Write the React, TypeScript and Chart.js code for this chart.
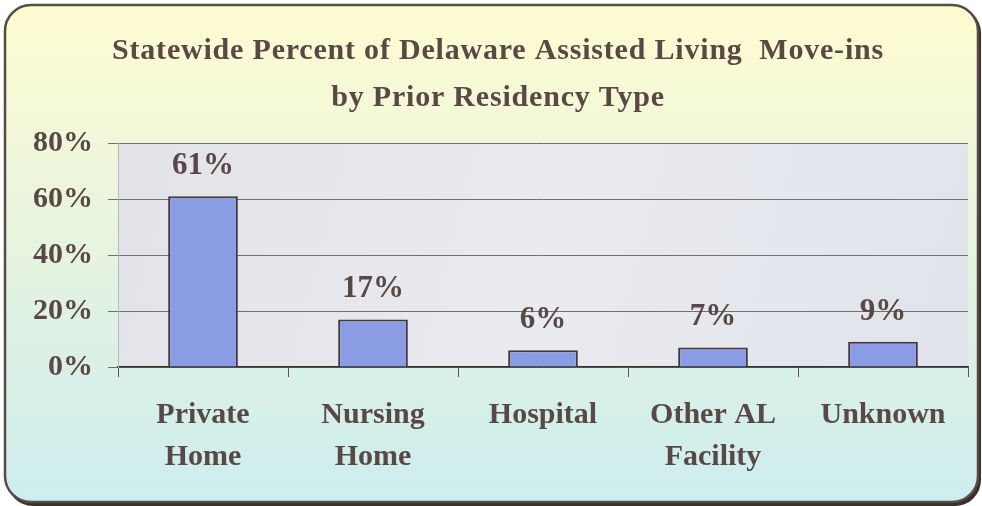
import React, { useEffect, useRef } from "react";
import { Chart, registerables } from "chart.js";

Chart.register(...registerables);

const categories: string[][] = [
  ["Private", "Home"],
  ["Nursing", "Home"],
  ["Hospital"],
  ["Other AL", "Facility"],
  ["Unknown"],
];
const percents: number[] = [61, 17, 6, 7, 9];
const yMin = 0;
const yMax = 80;
const yStep = 20;
const titleLines: string[] = [
  "Statewide Percent of Delaware Assisted Living  Move-ins",
  "by Prior Residency Type",
];

const TEXT = "#5a4846";
const FONT = "'Liberation Serif', 'Times New Roman', serif";

function roundRect(ctx: CanvasRenderingContext2D, x: number, y: number, w: number, h: number, r: number) {
  ctx.beginPath();
  ctx.moveTo(x + r, y);
  ctx.lineTo(x + w - r, y);
  ctx.arcTo(x + w, y, x + w, y + r, r);
  ctx.lineTo(x + w, y + h - r);
  ctx.arcTo(x + w, y + h, x + w - r, y + h, r);
  ctx.lineTo(x + r, y + h);
  ctx.arcTo(x, y + h, x, y + h - r, r);
  ctx.lineTo(x, y + r);
  ctx.arcTo(x, y, x + r, y, r);
  ctx.closePath();
}

const backgroundPlugin = {
  id: "cardBackground",
  beforeDraw(chart: any) {
    const ctx: CanvasRenderingContext2D = chart.ctx;
    const W = chart.width;
    const H = chart.height;
    ctx.save();
    ctx.fillStyle = "#ffffff";
    ctx.fillRect(0, 0, W, H);
    roundRect(ctx, 7, 7, W - 8, H - 7, 26);
    ctx.fillStyle = "#3a302e";
    ctx.fill();
    const g = ctx.createLinearGradient(0, 5, 0, H - 3);
    g.addColorStop(0, "#fefcd1");
    g.addColorStop(0.45, "#e8f4de");
    g.addColorStop(1, "#ccedef");
    roundRect(ctx, 5, 5, W - 9, H - 9, 26);
    ctx.fillStyle = g;
    ctx.fill();
    ctx.lineWidth = 2.5;
    ctx.strokeStyle = "#5a4a46";
    ctx.stroke();

    const a = chart.chartArea;
    const pg = ctx.createLinearGradient(a.left, a.top, a.right, a.bottom);
    pg.addColorStop(0, "#e1e3e9");
    pg.addColorStop(0.5, "#e9ebf0");
    pg.addColorStop(1, "#e0e3ea");
    ctx.fillStyle = pg;
    ctx.fillRect(a.left, a.top, a.right - a.left, a.bottom - a.top);
    ctx.restore();
  },
  afterDraw(chart: any) {
    const ctx: any = chart.ctx;
    ctx.save();
    ctx.fillStyle = TEXT;
    ctx.font = `bold 30px ${FONT}`;
    ctx.letterSpacing = "0.8px";
    ctx.textAlign = "center";
    ctx.textBaseline = "middle";
    const cx = 498;
    ctx.fillText(titleLines[0], cx, 51);
    ctx.fillText(titleLines[1], cx, 98);
    ctx.restore();
  },
};

const valueLabelPlugin = {
  id: "valueLabels",
  afterDatasetsDraw(chart: any) {
    const ctx: CanvasRenderingContext2D = chart.ctx;
    const meta = chart.getDatasetMeta(0);
    ctx.save();
    ctx.fillStyle = TEXT;
    ctx.font = `bold 31px ${FONT}`;
    ctx.textAlign = "center";
    ctx.textBaseline = "middle";
    meta.data.forEach((bar: any, i: number) => {
      ctx.fillText(percents[i] + "%", bar.x, bar.y - 30);
    });
    ctx.restore();
  },
};

export default function App() {
  const canvasRef = useRef<HTMLCanvasElement | null>(null);

  useEffect(() => {
    const canvas = canvasRef.current;
    if (!canvas) return;
    const chart = new Chart(canvas, {
      type: "bar",
      data: {
        labels: categories,
        datasets: [
          {
            data: percents,
            backgroundColor: "#8a9ce4",
            borderColor: "#45383a",
            borderWidth: 2,
            barPercentage: 0.41,
            categoryPercentage: 1.0,
          },
        ],
      },
      options: {
        responsive: false,
        animation: false,
        devicePixelRatio: 1,
        layout: { padding: { left: 0, right: 14, top: 143, bottom: 0 } },
        plugins: {
          legend: { display: false },
          title: { display: false },
          tooltip: { enabled: false },
        },
        scales: {
          x: {
            afterFit(scale: any) {
              scale.height = 139;
            },
            grid: {
              display: true,
              drawOnChartArea: false,
              drawTicks: true,
              tickLength: 10,
              tickColor: "#555",
              offset: true,
            },
            border: { display: true, color: "#333", width: 1.5 },
            ticks: {
              color: TEXT,
              font: { family: FONT, size: 30, weight: "bold", lineHeight: 1.4 },
              padding: 17,
              maxRotation: 0,
              autoSkip: false,
            },
          },
          y: {
            min: yMin,
            max: yMax,
            afterFit(scale: any) {
              scale.width = 118;
            },
            grid: {
              color: "#707070",
              lineWidth: 1,
              tickLength: 10,
              drawTicks: true,
            },
            border: { display: true, color: "#b8b8b8", width: 1 },
            ticks: {
              stepSize: yStep,
              color: TEXT,
              font: { family: FONT, size: 30, weight: "bold" },
              padding: 15,
              callback: (v: any) => v + "%",
            },
          },
        },
      },
      plugins: [backgroundPlugin, valueLabelPlugin],
    });
    return () => chart.destroy();
  }, []);

  return (
    <div style={{ position: "absolute", left: 0, top: 0, width: 982, height: 506 }}>
      <canvas ref={canvasRef} width={982} height={506} style={{ display: "block" }} />
    </div>
  );
}
